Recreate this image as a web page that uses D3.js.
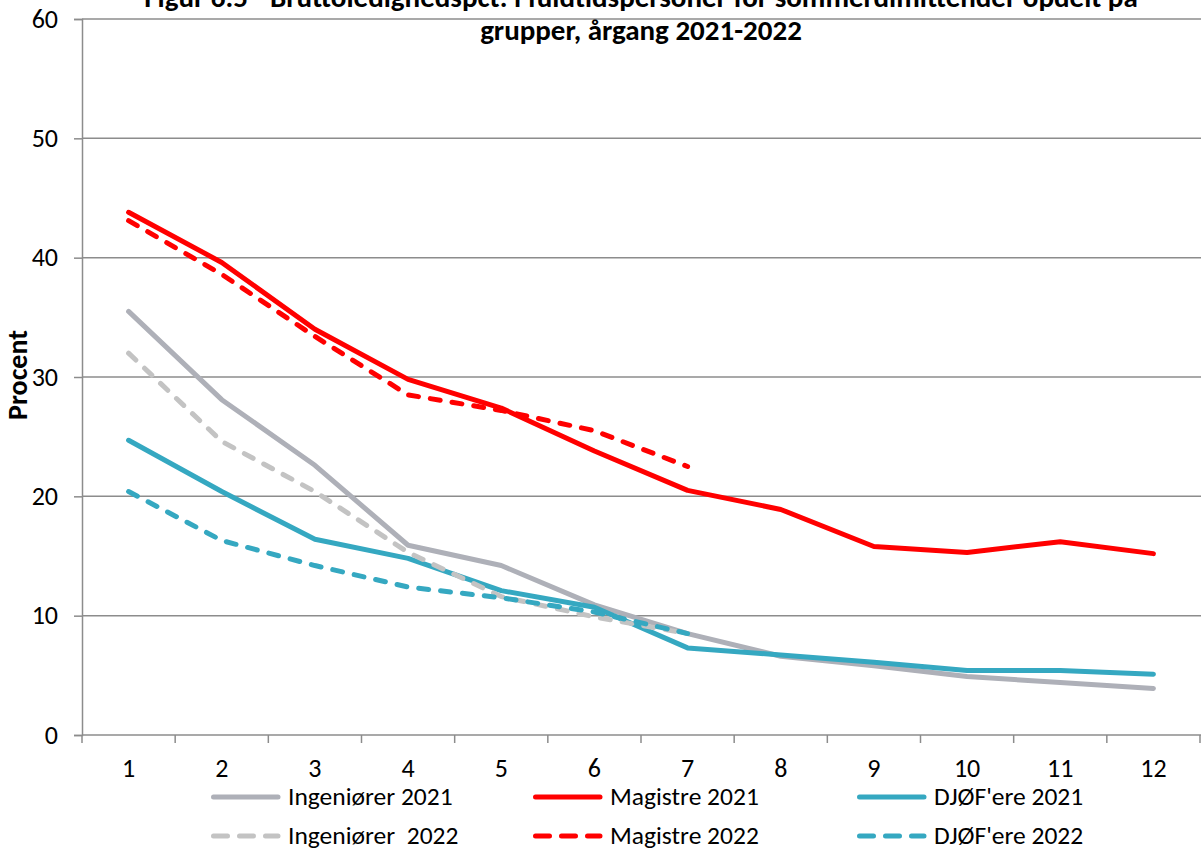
<!DOCTYPE html>
<html>
<head>
<meta charset="utf-8">
<script src="https://cdn.jsdelivr.net/npm/d3@7"></script>
<style>
  html, body { margin: 0; padding: 0; background: #fff; }
  svg { display: block; font-family: Carlito, Calibri, "Open Sans", sans-serif; }
</style>
</head>
<body>
<svg id="chart" width="1202" height="850"></svg>
<script>
const months = [1, 2, 3, 4, 5, 6, 7, 8, 9, 10, 11, 12];
const yTicks = [0, 10, 20, 30, 40, 50, 60];

const ingenioerer2021 = [35.5, 28.1, 22.6, 15.9, 14.2, 10.9, 8.5, 6.6, 5.8, 4.9, 4.4, 3.9];
const magistre2021    = [43.8, 39.6, 34.0, 29.8, 27.4, 23.8, 20.5, 18.9, 15.8, 15.3, 16.2, 15.2];
const djoef2021       = [24.7, 20.4, 16.4, 14.8, 12.1, 10.7, 7.3, 6.7, 6.1, 5.4, 5.4, 5.1];
const ingenioerer2022 = [32.0, 24.6, 20.4, 15.3, 11.6, 9.9, 8.5];
const magistre2022    = [43.1, 38.6, 33.4, 28.5, 27.2, 25.5, 22.5];
const djoef2022       = [20.4, 16.3, 14.2, 12.4, 11.5, 10.3, 8.5];

const seriesNames = ["Ingeniører 2021", "Magistre 2021", "DJØF'ere 2021",
                     "Ingeniører  2022", "Magistre 2022", "DJØF'ere 2022"];
const titleLines = ["Figur 6.5 - Bruttoledighedspct. i fuldtidspersoner for sommerdimittender opdelt på",
                    "grupper, årgang 2021-2022"];
const yAxisTitle = "Procent";

const FONT = "Carlito, Calibri, 'Open Sans', sans-serif";

const series = [
  { name: seriesNames[0], values: ingenioerer2021, color: "#AEB0B8", dash: null },
  { name: seriesNames[1], values: magistre2021,    color: "#FF0000", dash: null },
  { name: seriesNames[2], values: djoef2021,       color: "#35A8C1", dash: null },
  { name: seriesNames[3], values: ingenioerer2022, color: "#C3C3C3", dash: "10,12" },
  { name: seriesNames[4], values: magistre2022,    color: "#FF0000", dash: "10,12" },
  { name: seriesNames[5], values: djoef2022,       color: "#35A8C1", dash: "10,12" }
];

const svg = d3.select("#chart");
const plotLeft = 82, plotRight = 1201, plotTop = 19, plotBottom = 735;

const x = d3.scaleBand().domain(months).range([plotLeft, 1200]);
const y = d3.scaleLinear().domain([0, 60]).range([plotBottom, plotTop]);

// gridlines
svg.append("g").selectAll("line").data(yTicks.filter(d => d > 0)).join("line")
  .attr("x1", plotLeft).attr("x2", plotRight)
  .attr("y1", d => y(d)).attr("y2", d => y(d))
  .attr("stroke", "#8C8C8C").attr("stroke-width", 1.5);

// y axis
const yAxis = svg.append("g").attr("transform", `translate(${plotLeft},0)`)
  .call(d3.axisLeft(y).tickValues(yTicks).tickSize(8).tickPadding(16));
yAxis.attr("font-family", FONT).attr("font-size", 26);
yAxis.select(".domain").attr("stroke", "#8C8C8C").attr("stroke-width", 1.5);
yAxis.selectAll(".tick line").attr("stroke", "#8C8C8C").attr("stroke-width", 1.5);
yAxis.selectAll("text").attr("fill", "#000");

// x axis
const xAxis = svg.append("g").attr("transform", `translate(0,${plotBottom})`)
  .call(d3.axisBottom(x).tickSize(0).tickPadding(24));
xAxis.attr("font-family", FONT).attr("font-size", 26);
xAxis.select(".domain").attr("stroke", "#8C8C8C").attr("stroke-width", 1.5)
  .attr("d", `M${plotLeft},0H${plotRight}`);
xAxis.selectAll("text").attr("fill", "#000");
// category boundary ticks
const bounds = months.map(m => x(m)).concat([x(12) + x.bandwidth()]);
svg.append("g").selectAll("line").data(bounds).join("line")
  .attr("x1", d => d).attr("x2", d => d)
  .attr("y1", plotBottom).attr("y2", plotBottom + 8)
  .attr("stroke", "#8C8C8C").attr("stroke-width", 1.5);

// lines
const line = d3.line()
  .x((d, i) => x(months[i]) + x.bandwidth() / 2)
  .y(d => y(d));

svg.append("g").selectAll("path").data(series).join("path")
  .attr("d", d => line(d.values))
  .attr("fill", "none")
  .attr("stroke", d => d.color)
  .attr("stroke-width", 5)
  .attr("stroke-linecap", "round")
  .attr("stroke-linejoin", "round")
  .attr("stroke-dasharray", d => d.dash);

// title
svg.append("g").selectAll("text").data(titleLines).join("text")
  .attr("x", 641).attr("y", (d, i) => 7 + i * 33)
  .attr("text-anchor", "middle")
  .attr("font-size", 29).attr("font-weight", "bold").attr("fill", "#000")
  .text(d => d);

// y axis title
svg.append("text")
  .attr("transform", "translate(27,375) rotate(-90)")
  .attr("text-anchor", "middle")
  .attr("font-size", 28).attr("font-weight", "bold").attr("fill", "#000")
  .text(yAxisTitle);

// legend
const legendCols = [211, 533, 857];
const legendRows = [797, 836];
const lg = svg.append("g").selectAll("g").data(series).join("g")
  .attr("transform", (d, i) => `translate(${legendCols[i % 3]},${legendRows[Math.floor(i / 3)]})`);
lg.append("line")
  .attr("x1", 2.5).attr("x2", 67).attr("y1", 0).attr("y2", 0)
  .attr("stroke", d => d.color).attr("stroke-width", 5)
  .attr("stroke-linecap", "round")
  .attr("stroke-dasharray", d => d.dash ? "14,12" : null);
lg.append("text")
  .attr("x", 77).attr("y", 0).attr("dy", "0.33em")
  .attr("font-size", 25.5).attr("fill", "#000")
  .style("white-space", "pre")
  .attr("xml:space", "preserve")
  .text(d => d.name);
</script>
</body>
</html>
